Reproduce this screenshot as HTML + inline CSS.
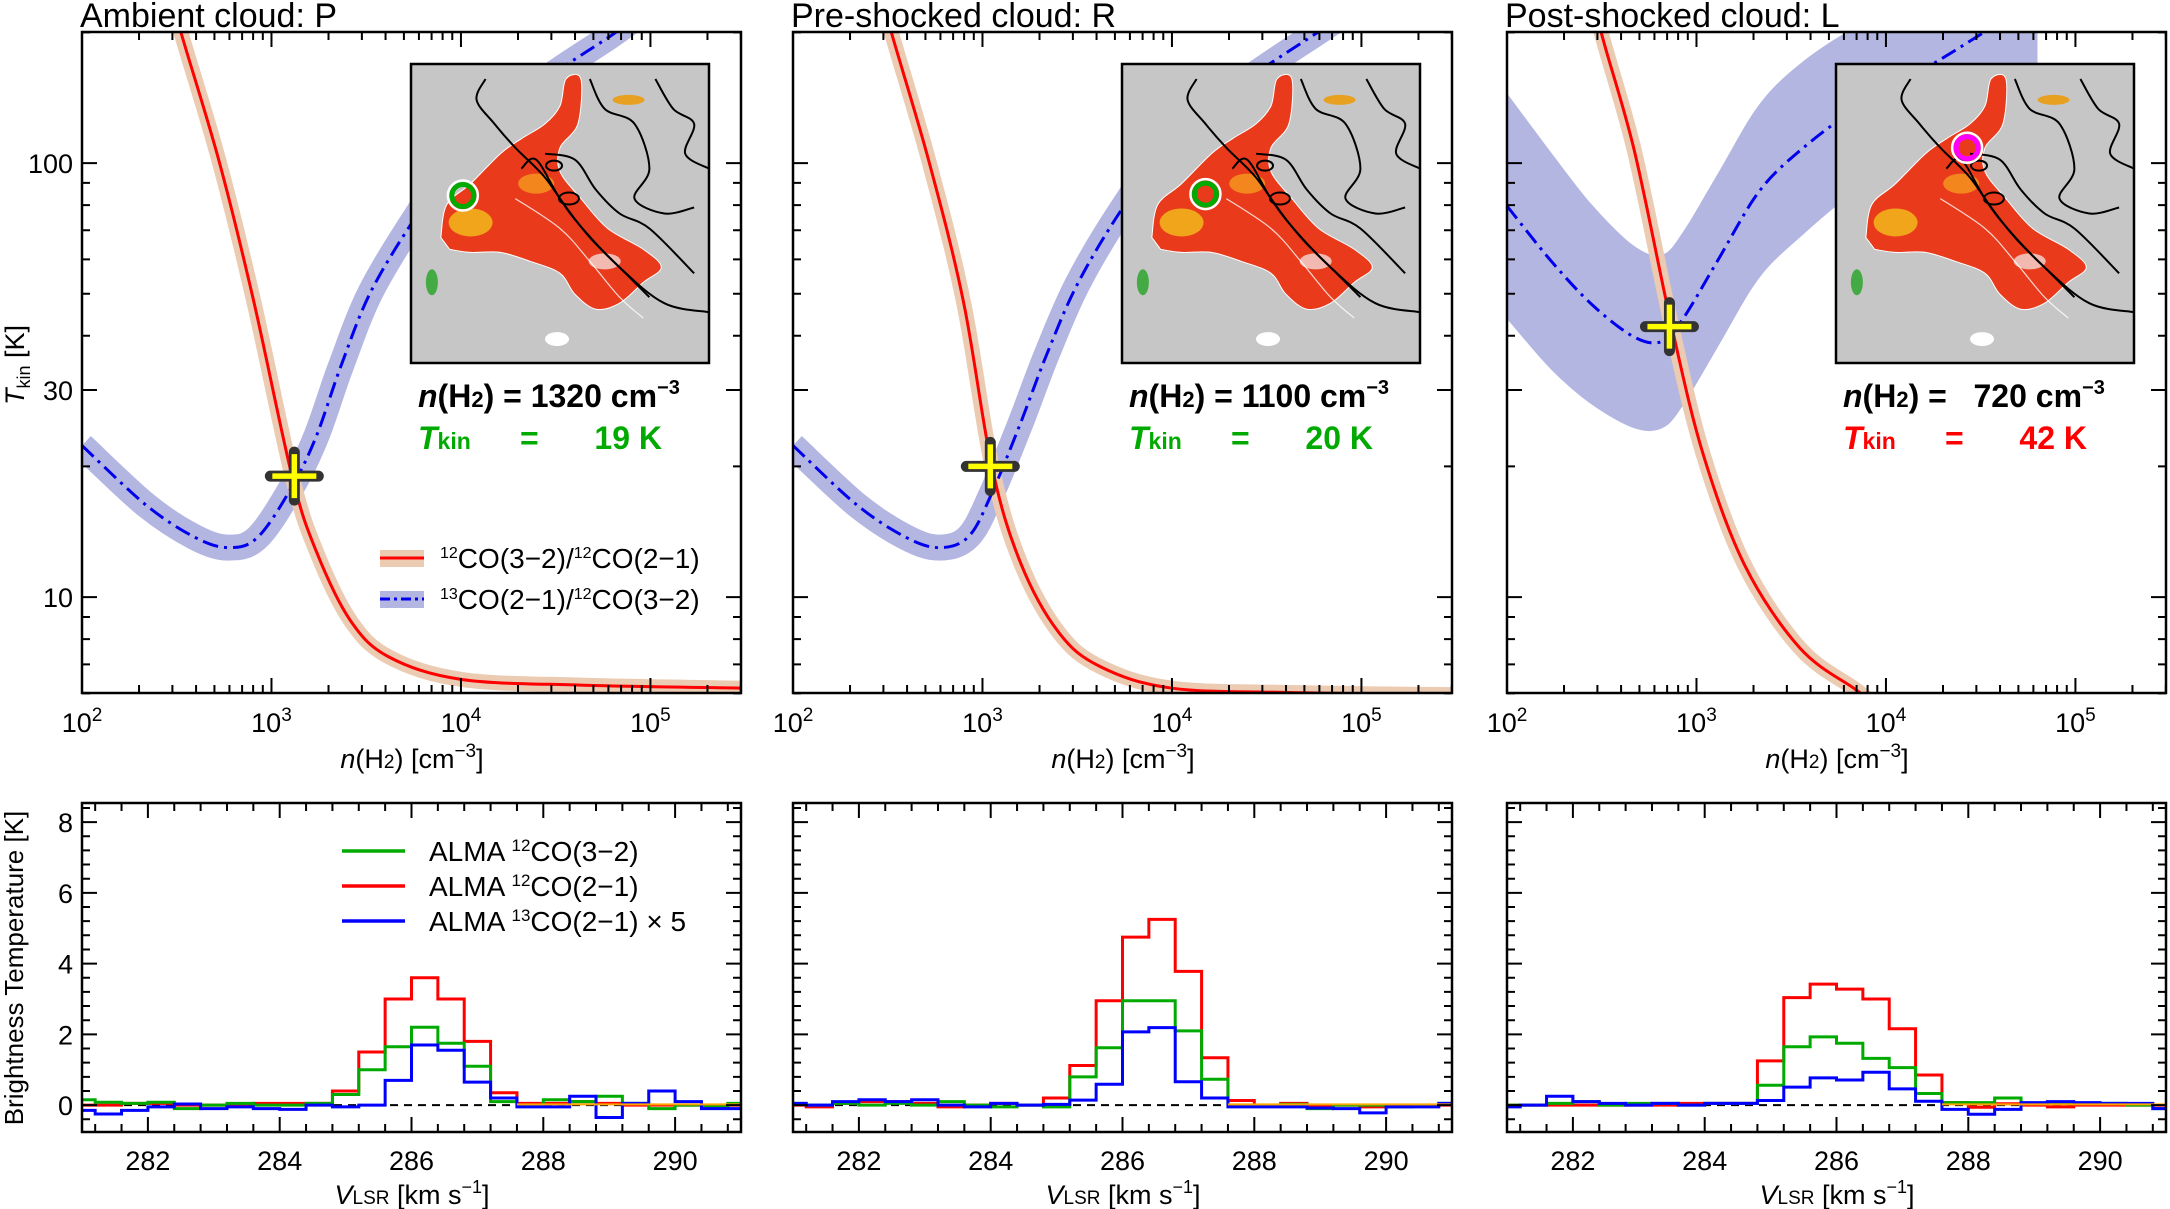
<!DOCTYPE html>
<html><head><meta charset="utf-8">
<style>
html,body{margin:0;padding:0;background:#fff;}
svg{display:block;font-family:"Liberation Sans",sans-serif;}
</style></head>
<body>
<svg id="fig" width="2170" height="1209" viewBox="0 0 2170 1209" xmlns="http://www.w3.org/2000/svg"></svg>
<script>
// ---------- DATA ----------
const panelTitles = ["Ambient cloud: P", "Pre-shocked cloud: R", "Post-shocked cloud: L"];
const densityLabels = ["1320", "1100", "720"];
const tkinLabels = ["19", "20", "42"];
const tkinColors = ["#00aa00", "#00aa00", "#ff0000"];
const crossN = [1320, 1100, 720];
const crossT = [19, 20, 42];
// red ratio curve control points (log n, log T)
const redLogN = [[2.45,2.523,2.723,2.903,3.108,3.236,3.415,3.62,4.005,4.65,5.5],
                 [2.45,2.52,2.72,2.9,3.05,3.2,3.4,3.62,4.0,4.65,5.5],
                 [2.45,2.489,2.672,2.869,3.036,3.255,3.547,3.84,3.985]];
const redLogT = [[2.42,2.30,2.005,1.688,1.28,1.106,0.947,0.862,0.81,0.797,0.79],
                 [2.42,2.30,2.0,1.68,1.30,1.08,0.92,0.84,0.79,0.78,0.775],
                 [2.44,2.315,2.029,1.624,1.328,1.073,0.882,0.787,0.74]];
// blue ratio curve control points
const blueLogN = [[2.0,2.338,2.595,2.774,2.928,3.108,3.236,3.364,3.518,3.749,4.005,4.39,4.8,5.0],
                  [2.0,2.338,2.595,2.774,2.928,3.05,3.2,3.34,3.5,3.73,4.0,4.39,4.8,5.0],
                  [2.0,2.234,2.453,2.672,2.818,2.927,3.11,3.328,3.547,3.839,4.277,4.569,4.8]];
const blueLogT = [[1.349,1.212,1.138,1.114,1.138,1.254,1.37,1.529,1.698,1.868,2.026,2.175,2.296,2.36],
                  [1.349,1.212,1.138,1.114,1.14,1.24,1.40,1.56,1.72,1.89,2.05,2.19,2.31,2.37],
                  [1.901,1.774,1.672,1.599,1.589,1.64,1.774,1.933,2.029,2.124,2.236,2.315,2.37]];
const blueBand3 = [0.26,0.25,0.23,0.21,0.2,0.2,0.2,0.2,0.2,0.19,0.18,0.17,0.17];
// spectra: 26 bins of 0.4 km/s starting at 280.8
const binStart = 280.8, binWidth = 0.4;
const redSpec = [
 [0.0,0.0,0.05,0.05,0.0,0.0,0.0,0.05,0.05,0.05,0.4,1.5,3.0,3.6,3.0,1.8,0.35,0.05,0.05,0.1,0.05,0.0,0.0,0.0,0.0,0.0],
 [0.0,-0.05,0.05,0.1,0.1,0.05,-0.05,0.0,0.05,0.0,0.2,1.12,2.95,4.75,5.25,3.78,1.34,0.13,0.0,0.05,0.0,0.0,-0.05,0.0,0.0,0.0],
 [0.0,0.0,0.0,0.0,0.0,0.0,0.0,0.05,0.05,0.05,1.25,3.04,3.42,3.28,3.0,2.16,0.85,0.07,-0.06,0.04,0.0,-0.05,0.0,0.0,0.0,0.0]];
const greenSpec = [
 [0.15,0.08,0.05,0.08,-0.1,0.0,0.05,0.0,0.0,0.05,0.3,1.0,1.65,2.2,1.75,1.1,0.1,0.0,0.15,0.1,0.25,0.05,-0.1,0.0,-0.05,0.05],
 [0.05,0.0,0.05,0.0,0.05,0.0,0.1,0.0,-0.05,0.0,-0.05,0.8,1.62,2.95,2.95,2.1,0.73,0.0,0.0,0.02,-0.1,0.0,0.0,-0.05,0.0,0.05],
 [0.0,0.0,0.05,0.1,0.0,0.05,0.05,0.0,0.05,0.05,0.56,1.65,1.93,1.75,1.32,1.06,0.33,0.07,0.07,0.2,0.05,0.05,0.05,0.05,0.0,-0.1]];
const blueSpec = [
 [-0.15,-0.25,-0.15,-0.05,0.03,-0.1,-0.05,-0.1,-0.12,0.0,-0.05,0.0,0.7,1.7,1.55,0.65,0.2,-0.05,-0.05,0.25,-0.35,0.05,0.4,0.1,-0.1,-0.1],
 [0.05,0.0,0.1,0.15,0.1,0.15,0.0,-0.05,0.05,0.0,0.02,0.14,0.59,2.07,2.19,0.66,0.2,-0.05,-0.05,-0.05,-0.08,-0.1,-0.22,-0.05,-0.05,0.05],
 [-0.05,0.0,0.25,0.1,0.05,0.0,0.05,0.0,0.05,0.05,0.13,0.51,0.77,0.71,0.93,0.46,0.11,-0.12,-0.26,-0.12,0.07,0.1,0.07,0.05,0.05,-0.1]];
const xTicksTop = [2,3,4,5];
const yTicksTop = [10,30,100];
const yTickLabelsTop = ["10","30","100"];
const xTicksBot = [282,284,286,288,290];
const yTicksBot = [0,2,4,6,8];
const markerPos = [[0.174,0.44],[0.28,0.435],[0.44,0.28]];
const markerColors = ["#00aa00","#00aa00","#ff00ff"];

// ---------- LAYOUT ----------
const NS = "http://www.w3.org/2000/svg";
const svg = document.getElementById("fig");
const PX = [82, 793, 1507], PW = 659;
const TT = 32, TB = 693, BT = 803, BB = 1132;
const LN0 = 2, LN1 = 5.478, LT0 = 0.779, LT1 = 2.302;
const V0 = 281, V1 = 291, K0 = -0.76, K1 = 8.54;
function xTop(p, ln){ return PX[p] + (ln-LN0)/(LN1-LN0)*PW; }
function yTop(lt){ return TB - (lt-LT0)/(LT1-LT0)*(TB-TT); }
function xBot(p, v){ return PX[p] + (v-V0)/(V1-V0)*PW; }
function yBot(k){ return BB - (k-K0)/(K1-K0)*(BB-BT); }
function el(tag, attrs, parent){
  const e = document.createElementNS(NS, tag);
  for (const k in attrs) e.setAttribute(k, attrs[k]);
  (parent||svg).appendChild(e);
  return e;
}
function smooth(pts){
  let d = "M" + pts[0][0].toFixed(1) + "," + pts[0][1].toFixed(1);
  for (let i=0;i<pts.length-1;i++){
    const p0 = pts[Math.max(0,i-1)], p1 = pts[i], p2 = pts[i+1], p3 = pts[Math.min(pts.length-1,i+2)];
    const c1 = [p1[0]+(p2[0]-p0[0])/6, p1[1]+(p2[1]-p0[1])/6];
    const c2 = [p2[0]-(p3[0]-p1[0])/6, p2[1]-(p3[1]-p1[1])/6];
    d += "C"+c1[0].toFixed(1)+","+c1[1].toFixed(1)+" "+c2[0].toFixed(1)+","+c2[1].toFixed(1)+" "+p2[0].toFixed(1)+","+p2[1].toFixed(1);
  }
  return d;
}
const defs = el("defs", {});
for (let p=0;p<3;p++){
  const c1 = el("clipPath", {id:"ct"+p}, defs);
  el("rect", {x:PX[p], y:TT, width:PW, height:TB-TT}, c1);
  const c2 = el("clipPath", {id:"cb"+p}, defs);
  el("rect", {x:PX[p], y:BT, width:PW, height:BB-BT}, c2);
}
function txt(x, y, s, size, attrs, parent){
  const t = el("text", Object.assign({x:x, y:y, "font-size":size, fill:"#000"}, attrs||{}), parent);
  t.innerHTML = s;
  return t;
}

for (let p=0;p<3;p++){
  const gT = el("g", {});
  
  
  const title = txt(PX[p]-2, 27, panelTitles[p], 34, {}, gT);
  
  

  const cg = el("g", {"clip-path":"url(#ct"+p+")"}, gT);
  const bPts = blueLogN[p].map((n,i)=>[xTop(p,n), yTop(blueLogT[p][i])]);
  if (p===2){
    const up = blueLogN[p].map((n,i)=>[xTop(p,n), yTop(blueLogT[p][i]+blueBand3[i])]);
    const dn = blueLogN[p].map((n,i)=>[xTop(p,n), yTop(blueLogT[p][i]-blueBand3[i])]).reverse();
    const d = smooth(up) + smooth(dn).replace("M","L") + "Z";
    const band = el("path", {d:d, fill:"#b4b6e2", stroke:"none"}, cg);
    
    
  } else {
    const band = el("path", {d:smooth(bPts), fill:"none", stroke:"#b4b6e2", "stroke-width":26}, cg);
    
    
  }
  const rPts = redLogN[p].map((n,i)=>[xTop(p,n), yTop(redLogT[p][i])]);
  const rband = el("path", {d:smooth(rPts), fill:"none", stroke:"#eccbb3", "stroke-width":15}, cg);
  
  
  const bl = el("path", {d:smooth(bPts), fill:"none", stroke:"#0000ee", "stroke-width":3, "stroke-dasharray":"16,6,3,6"}, cg);
  
  
  const rl = el("path", {d:smooth(rPts), fill:"none", stroke:"#ff0000", "stroke-width":3}, cg);
  
  

  const cx = xTop(p, Math.log10(crossN[p])), cy = yTop(Math.log10(crossT[p]));
  const cross = el("g", {}, gT);
  
  
  el("path", {d:`M${cx-24},${cy}H${cx+24}M${cx},${cy-24}V${cy+24}`, stroke:"#333", "stroke-width":11, "stroke-linecap":"round"}, cross);
  el("path", {d:`M${cx-22},${cy}H${cx+22}M${cx},${cy-22}V${cy+22}`, stroke:"#ffff00", "stroke-width":5.5}, cross);

  const ix = PX[p]+329, iy = 64, iw = 298, ih = 299;
  const inset = el("g", {transform:`translate(${ix},${iy})`}, gT);
  
  
  el("rect", {x:0,y:0,width:iw,height:ih,fill:"#c6c6c6"}, inset);
  const S = (pts)=>pts.map(q=>[q[0]*iw,q[1]*ih]);
  const blob = S([[0.1,0.58],[0.12,0.47],[0.2,0.4],[0.3,0.3],[0.37,0.25],[0.45,0.2],[0.5,0.14],[0.52,0.05],[0.57,0.05],[0.56,0.2],[0.5,0.28],[0.5,0.36],[0.57,0.45],[0.66,0.55],[0.78,0.62],[0.84,0.68],[0.78,0.73],[0.7,0.8],[0.62,0.82],[0.55,0.77],[0.5,0.7],[0.4,0.66],[0.3,0.63],[0.2,0.63],[0.13,0.62]]);
  el("path", {d:smooth(blob)+"Z", fill:"#ea3a1c", stroke:"#ffffff", "stroke-width":1}, inset);
  el("ellipse", {cx:0.2*iw, cy:0.53*ih, rx:22, ry:14, fill:"#f2c01a", opacity:0.8}, inset);
  el("ellipse", {cx:0.42*iw, cy:0.4*ih, rx:18, ry:10, fill:"#f6a81e", opacity:0.7}, inset);
  el("ellipse", {cx:0.65*iw, cy:0.66*ih, rx:16, ry:8, fill:"#f4f0f0", opacity:0.7}, inset);
  el("ellipse", {cx:0.07*iw, cy:0.73*ih, rx:6, ry:13, fill:"#44aa44"}, inset);
  el("ellipse", {cx:0.73*iw, cy:0.12*ih, rx:16, ry:5, fill:"#e8a020"}, inset);
  el("ellipse", {cx:0.49*iw, cy:0.92*ih, rx:12, ry:7, fill:"#ffffff"}, inset);
  const c1 = S([[0.25,0.05],[0.22,0.12],[0.28,0.2],[0.35,0.28],[0.45,0.38],[0.55,0.52],[0.7,0.68],[0.85,0.8],[1.0,0.83]]);
  el("path", {d:smooth(c1), fill:"none", stroke:"#000", "stroke-width":2}, inset);
  const c2 = S([[0.37,0.35],[0.42,0.32],[0.5,0.45],[0.6,0.58],[0.72,0.7],[0.8,0.78]]);
  el("path", {d:smooth(c2), fill:"none", stroke:"#000", "stroke-width":2}, inset);
  const c3 = S([[0.45,0.3],[0.55,0.32],[0.62,0.42],[0.7,0.5],[0.8,0.55],[0.95,0.7]]);
  el("path", {d:smooth(c3), fill:"none", stroke:"#000", "stroke-width":2}, inset);
  const c4 = S([[0.6,0.05],[0.65,0.15],[0.75,0.2],[0.8,0.35],[0.75,0.45],[0.85,0.5],[0.95,0.48]]);
  el("path", {d:smooth(c4), fill:"none", stroke:"#000", "stroke-width":2}, inset);
  const c5 = S([[0.82,0.05],[0.88,0.15],[0.95,0.2],[0.92,0.3],[1.0,0.35]]);
  el("path", {d:smooth(c5), fill:"none", stroke:"#000", "stroke-width":2}, inset);
  const c6 = S([[0.35,0.45],[0.5,0.55],[0.6,0.66],[0.7,0.78],[0.78,0.85]]);
  el("path", {d:smooth(c6), fill:"none", stroke:"#fff", "stroke-width":1.2, opacity:0.8}, inset);
  el("ellipse", {cx:0.48*iw, cy:0.34*ih, rx:8, ry:5, fill:"none", stroke:"#000", "stroke-width":2}, inset);
  el("ellipse", {cx:0.53*iw, cy:0.45*ih, rx:10, ry:6, fill:"none", stroke:"#000", "stroke-width":2}, inset);
  el("rect", {x:0,y:0,width:iw,height:ih,fill:"none",stroke:"#000","stroke-width":2.5}, inset);
  const mk = el("circle", {cx:markerPos[p][0]*iw, cy:markerPos[p][1]*ih, r:11, fill:"none", stroke:markerColors[p], "stroke-width":5}, inset);
  
  
  el("circle", {cx:markerPos[p][0]*iw, cy:markerPos[p][1]*ih, r:15, fill:"none", stroke:"#fff", "stroke-width":2.5}, inset);

  const nt = txt(PX[p]+336, 407, `<tspan font-style="italic">n</tspan>(H<tspan font-size="22">2</tspan>) = <tspan>${densityLabels[p].padStart(4,"\u2007")}</tspan> cm<tspan font-size="20" dy="-13">−3</tspan>`, 32, {"font-weight":"bold"}, gT);
  
  
  const tt = txt(PX[p]+336, 449, `<tspan font-style="italic">T</tspan><tspan font-size="23">kin</tspan>`, 32, {"font-weight":"bold", fill:tkinColors[p]}, gT);
  
  
  txt(PX[p]+438, 449, "=", 32, {"font-weight":"bold", fill:tkinColors[p]}, gT);
  txt(PX[p]+580, 449, tkinLabels[p]+" K", 32, {"font-weight":"bold", fill:tkinColors[p], "text-anchor":"end"}, gT);

  el("rect", {x:PX[p], y:TT, width:PW, height:TB-TT, fill:"none", stroke:"#000", "stroke-width":2.5}, gT);
  let d = "";
  for (let dec=2; dec<=5; dec++){
    for (let m=1; m<=9; m++){
      const ln = dec + Math.log10(m);
      if (ln > LN1) break;
      const x = xTop(p, ln), L = m===1 ? 15 : 8;
      d += `M${x},${TB}v${-L}M${x},${TT}v${L}`;
    }
  }
  const tVals = [6,7,8,9,10,20,30,40,50,60,70,80,90,100,200];
  tVals.forEach(v=>{
    const y = yTop(Math.log10(v)), L = (v===10||v===30||v===100) ? 15 : 8;
    d += `M${PX[p]},${y}h${L}M${PX[p]+PW},${y}h${-L}`;
  });
  el("path", {d:d, stroke:"#000", "stroke-width":2}, gT);
  xTicksTop.forEach(e=>{
    const lab = txt(xTop(p,e), 732, `10<tspan font-size="19" dy="-11">${e}</tspan>`, 27, {"text-anchor":"middle"}, gT);
    
    
  });
  const xl = txt(PX[p]+330, 768, `<tspan font-style="italic">n</tspan>(H<tspan font-size="19">2</tspan>) [cm<tspan font-size="19" dy="-11">−3</tspan><tspan dy="11">]</tspan>`, 27, {"text-anchor":"middle"}, gT);
  
  
  if (p===0){
    yTicksTop.forEach((v,i)=>{
      const lab = txt(73, yTop(Math.log10(v))+10, yTickLabelsTop[i], 27, {"text-anchor":"end"}, gT);
      
      
    });
    const yl = txt(0, 0, `<tspan font-style="italic">T</tspan><tspan font-size="18" dy="6">kin</tspan><tspan dy="-6"> [K]</tspan>`, 27, {"text-anchor":"middle", transform:"translate(24,365) rotate(-90)"}, gT);
    
    
    const lg = el("g", {}, gT);
    
    
    el("rect", {x:380, y:550, width:44, height:17, fill:"#eccbb3"}, lg);
    el("line", {x1:380, y1:558, x2:424, y2:558, stroke:"#ff0000", "stroke-width":3}, lg);
    el("rect", {x:380, y:591, width:44, height:17, fill:"#b4b6e2"}, lg);
    el("line", {x1:380, y1:599, x2:424, y2:599, stroke:"#0000ee", "stroke-width":3, "stroke-dasharray":"10,4,3,4"}, lg);
    txt(440, 568, `<tspan font-size="16" dy="-10">12</tspan><tspan dy="10">CO(3−2)/</tspan><tspan font-size="16" dy="-10">12</tspan><tspan dy="10">CO(2−1)</tspan>`, 28, {}, lg);
    txt(440, 609, `<tspan font-size="16" dy="-10">13</tspan><tspan dy="10">CO(2−1)/</tspan><tspan font-size="16" dy="-10">12</tspan><tspan dy="10">CO(3−2)</tspan>`, 28, {}, lg);
  }

  const gB = el("g", {});
  
  
  const cb = el("g", {"clip-path":"url(#cb"+p+")"}, gB);
  const zl = el("line", {x1:PX[p], x2:PX[p]+PW, y1:yBot(0), y2:yBot(0), stroke:"#000", "stroke-width":2, "stroke-dasharray":"8,6"}, cb);
  
  
  const step = (arr)=>{
    let s = "";
    arr.forEach((v,i)=>{
      const xa = xBot(p, binStart + i*binWidth), xb = xBot(p, binStart + (i+1)*binWidth), y = yBot(v);
      s += (i===0 ? "M"+xa+","+y : "L"+xa+","+y) + "L"+xb+","+y;
    });
    return s;
  };
  const sr = el("path", {d:step(redSpec[p]), fill:"none", stroke:"#ff0000", "stroke-width":3}, cb);
  
  
  const sg = el("path", {d:step(greenSpec[p]), fill:"none", stroke:"#00aa00", "stroke-width":3}, cb);
  
  
  const sb = el("path", {d:step(blueSpec[p]), fill:"none", stroke:"#0000ff", "stroke-width":3}, cb);
  
  
  el("line", {x1:xBot(p,287.6), x2:PX[p]+PW, y1:yBot(0.02), y2:yBot(0.02), stroke:"#ffa500", "stroke-width":2}, cb);
  el("rect", {x:PX[p], y:BT, width:PW, height:BB-BT, fill:"none", stroke:"#000", "stroke-width":2.5}, gB);
  let db = "";
  for (let v=281.2; v<291; v+=0.4){
    const major = Math.abs(Math.round(v)-v)<0.01 && Math.round(v)%2===0;
    const x = xBot(p, v), L = major ? 15 : 8;
    db += `M${x},${BB}v${-L}M${x},${BT}v${L}`;
  }
  for (let k=-0.4; k<K1; k+=0.4){
    const major = Math.abs(Math.round(k)-k)<0.01 && Math.round(k)%2===0;
    const y = yBot(k), L = major ? 15 : 8;
    db += `M${PX[p]},${y}h${L}M${PX[p]+PW},${y}h${-L}`;
  }
  el("path", {d:db, stroke:"#000", "stroke-width":2}, gB);
  xTicksBot.forEach(v=>{
    const lab = txt(xBot(p,v), 1170, String(v), 27, {"text-anchor":"middle"}, gB);
    
    
  });
  const vl = txt(PX[p]+330, 1204, `<tspan font-style="italic">V</tspan><tspan font-size="19">LSR</tspan> [km s<tspan font-size="18" dy="-11">−1</tspan><tspan dy="11">]</tspan>`, 27, {"text-anchor":"middle"}, gB);
  
  
  if (p===0){
    yTicksBot.forEach(v=>{
      const lab = txt(73, yBot(v)+10, String(v), 27, {"text-anchor":"end"}, gB);
      
      
    });
    const yl2 = txt(0, 0, "Brightness Temperature [K]", 26, {"text-anchor":"middle", transform:"translate(23,968) rotate(-90)"}, gB);
    
    
    const lg2 = el("g", {}, gB);
    
    
    const labs = ["ALMA <tspan font-size='17' dy='-10'>12</tspan><tspan dy='10'>CO(3−2)</tspan>","ALMA <tspan font-size='17' dy='-10'>12</tspan><tspan dy='10'>CO(2−1)</tspan>","ALMA <tspan font-size='17' dy='-10'>13</tspan><tspan dy='10'>CO(2−1) × 5</tspan>"];
    const cols = ["#00aa00","#ff0000","#0000ff"];
    for (let i=0;i<3;i++){
      const y = 851 + i*35;
      el("line", {x1:342, y1:y, x2:405, y2:y, stroke:cols[i], "stroke-width":3.5}, lg2);
      txt(429, y+10, labs[i], 28, {}, lg2);
    }
  }
}
</script>
</body></html>
